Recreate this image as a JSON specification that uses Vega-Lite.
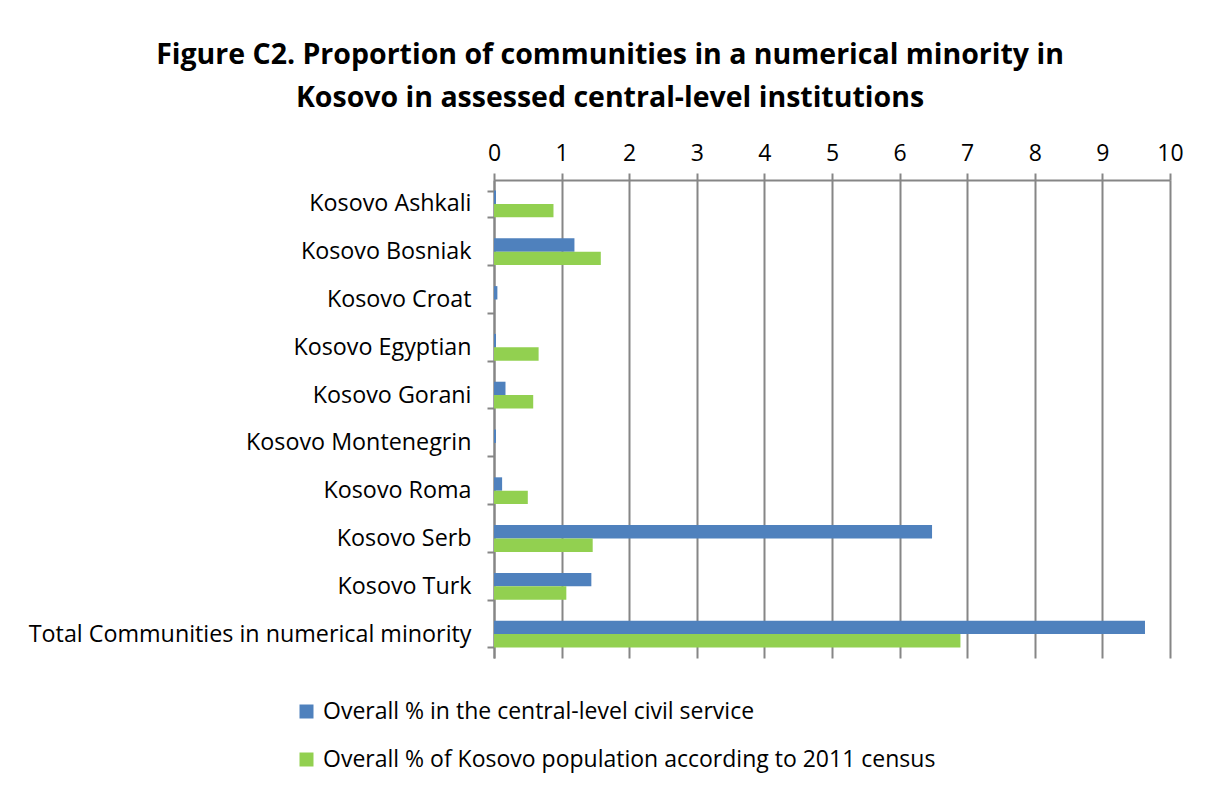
{
  "$schema": "https://vega.github.io/schema/vega-lite/v6.json",
  "width": 676,
  "height": 478,
  "autosize": {"type": "none"},
  "padding": {"left": 494, "top": 180, "right": 38, "bottom": 132},
  "background": "white",
  "title": {
    "text": ["Figure C2. Proportion of communities in a numerical minority in", "Kosovo in assessed central-level institutions"],
    "font": "Open Sans",
    "fontSize": 28.5,
    "fontWeight": "bold",
    "color": "black",
    "anchor": "middle",
    "dx": -222,
    "offset": 30,
    "lineHeight": 43
  },
  "data": {
    "values": [
      {"community": "Kosovo Ashkali", "series": "Overall % in the central-level civil service", "value": 0.03},
      {"community": "Kosovo Ashkali", "series": "Overall % of Kosovo population according to 2011 census", "value": 0.88},
      {"community": "Kosovo Bosniak", "series": "Overall % in the central-level civil service", "value": 1.19},
      {"community": "Kosovo Bosniak", "series": "Overall % of Kosovo population according to 2011 census", "value": 1.58},
      {"community": "Kosovo Croat", "series": "Overall % in the central-level civil service", "value": 0.05},
      {"community": "Kosovo Croat", "series": "Overall % of Kosovo population according to 2011 census", "value": 0},
      {"community": "Kosovo Egyptian", "series": "Overall % in the central-level civil service", "value": 0.03},
      {"community": "Kosovo Egyptian", "series": "Overall % of Kosovo population according to 2011 census", "value": 0.66},
      {"community": "Kosovo Gorani", "series": "Overall % in the central-level civil service", "value": 0.17},
      {"community": "Kosovo Gorani", "series": "Overall % of Kosovo population according to 2011 census", "value": 0.58},
      {"community": "Kosovo Montenegrin", "series": "Overall % in the central-level civil service", "value": 0.03},
      {"community": "Kosovo Montenegrin", "series": "Overall % of Kosovo population according to 2011 census", "value": 0},
      {"community": "Kosovo Roma", "series": "Overall % in the central-level civil service", "value": 0.12},
      {"community": "Kosovo Roma", "series": "Overall % of Kosovo population according to 2011 census", "value": 0.5},
      {"community": "Kosovo Serb", "series": "Overall % in the central-level civil service", "value": 6.48},
      {"community": "Kosovo Serb", "series": "Overall % of Kosovo population according to 2011 census", "value": 1.46},
      {"community": "Kosovo Turk", "series": "Overall % in the central-level civil service", "value": 1.44},
      {"community": "Kosovo Turk", "series": "Overall % of Kosovo population according to 2011 census", "value": 1.07},
      {"community": "Total Communities in numerical minority", "series": "Overall % in the central-level civil service", "value": 9.63},
      {"community": "Total Communities in numerical minority", "series": "Overall % of Kosovo population according to 2011 census", "value": 6.9}
    ]
  },
  "mark": {"type": "bar"},
  "encoding": {
    "y": {
      "field": "community",
      "type": "nominal",
      "sort": null,
      "title": null,
      "scale": {"paddingInner": 0.44, "paddingOuter": 0.22},
      "axis": {
        "orient": "left",
        "tickBand": "extent",
        "tickColor": "#868686",
        "tickWidth": 2,
        "tickSize": 7,
        "domainColor": "#868686",
        "domainWidth": 2,
        "labelFont": "Open Sans",
        "labelFontSize": 23.3,
        "labelColor": "black",
        "labelPadding": 16,
        "labelLimit": 600,
        "grid": false
      }
    },
    "yOffset": {"field": "series", "sort": null},
    "x": {
      "field": "value",
      "type": "quantitative",
      "title": null,
      "scale": {"domain": [0, 10], "nice": false},
      "axis": {
        "orient": "top",
        "values": [0, 1, 2, 3, 4, 5, 6, 7, 8, 9, 10],
        "format": "d",
        "labelFlush": false,
        "grid": true,
        "gridColor": "#868686",
        "gridWidth": 2,
        "tickColor": "#868686",
        "tickWidth": 2,
        "tickSize": 7,
        "domainColor": "#868686",
        "domainWidth": 2,
        "labelFont": "Open Sans",
        "labelFontSize": 23,
        "labelColor": "black",
        "labelPadding": 8
      }
    },
    "color": {
      "field": "series",
      "type": "nominal",
      "sort": null,
      "scale": {
        "domain": ["Overall % in the central-level civil service", "Overall % of Kosovo population according to 2011 census"],
        "range": ["#4F81BD", "#92D050"]
      },
      "legend": {
        "orient": "none",
        "legendX": -199,
        "legendY": 520,
        "direction": "vertical",
        "title": null,
        "symbolType": "square",
        "symbolSize": 196,
        "symbolStrokeWidth": 0,
        "labelFont": "Open Sans",
        "labelFontSize": 23,
        "labelColor": "black",
        "labelLimit": 800,
        "rowPadding": 24,
        "labelOffset": 5
      }
    }
  },
  "config": {"view": {"stroke": null}}
}
